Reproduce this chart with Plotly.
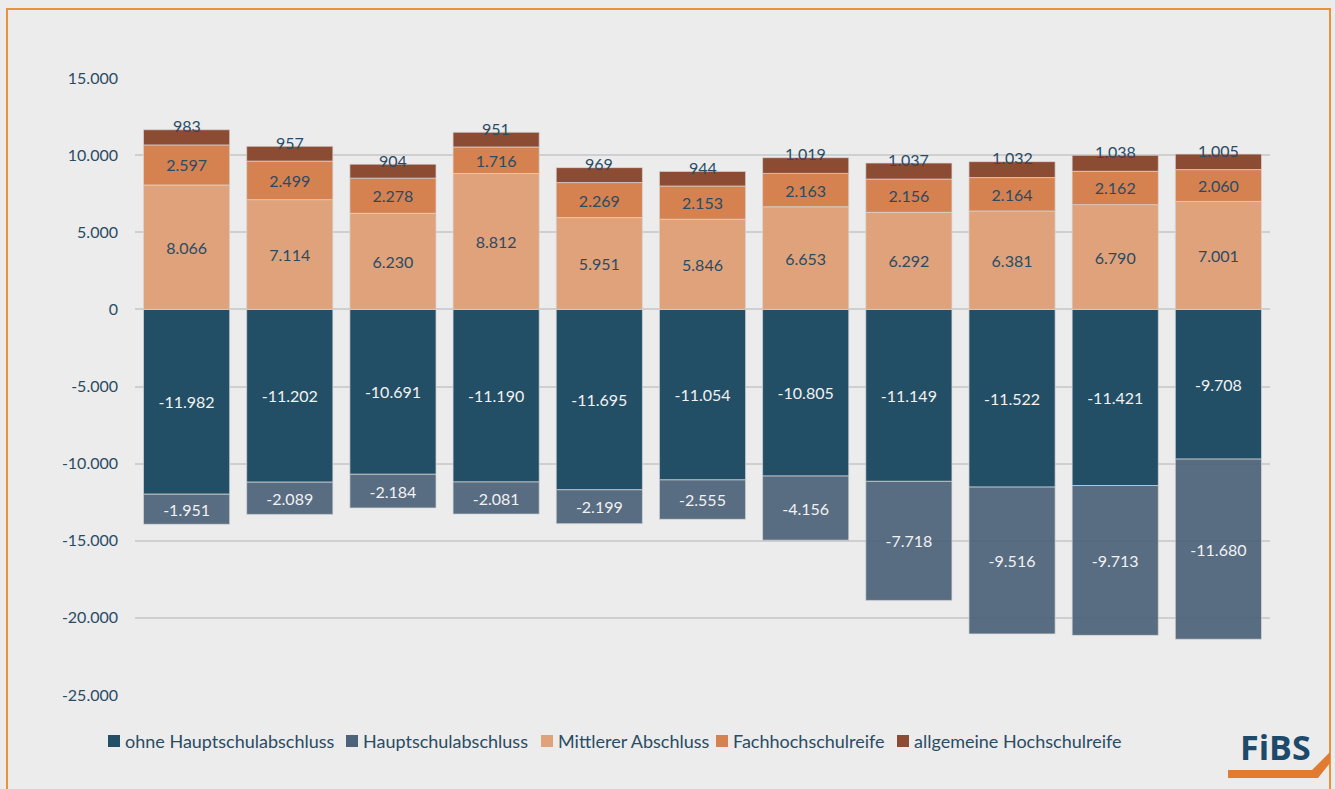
import plotly.graph_objects as go

# Stacked school-leaving qualification counts per group (negative = below, positive = above)
groups = [f"G{i}" for i in range(1, 12)]
ohne_hs = [-11982, -11202, -10691, -11190, -11695, -11054, -10805, -11149, -11522, -11421, -9708]
hauptschul = [-1951, -2089, -2184, -2081, -2199, -2555, -4156, -7718, -9516, -9713, -11680]
mittlerer = [8066, 7114, 6230, 8812, 5951, 5846, 6653, 6292, 6381, 6790, 7001]
fachhoch = [2597, 2499, 2278, 1716, 2269, 2153, 2163, 2156, 2164, 2162, 2060]
allg_hoch = [983, 957, 904, 951, 969, 944, 1019, 1037, 1032, 1038, 1005]

series_names = ["ohne Hauptschulabschluss", "Hauptschulabschluss", "Mittlerer Abschluss",
                "Fachhochschulreife", "allgemeine Hochschulreife"]
series_colors = ["#234f66", "#4d637a", "#dfa27a", "#d58150", "#8c4c33"]

y_ticks = [15000, 10000, 5000, 0, -5000, -10000, -15000, -20000, -25000]

TEXT = "#2a4b64"
FONT = "Lato"
BG = "#ececec"

# page geometry (pixels)
W, H = 1335, 789
L, R, T, B = 135, 65, 78, 94
PW, PH = W - L - R, H - T - B


def px(x):
    return (x - L) / PW


def py(y):
    return (H - B - y) / PH


def de(v):
    return f"{v:,}".replace(",", ".")


def bar(idx, values, txtcolor, opacity=1.0, show_text=True):
    return go.Bar(
        name=series_names[idx],
        x=groups,
        y=values,
        marker=dict(color=series_colors[idx], opacity=opacity,
                    line=dict(color="rgba(215,215,215,0.7)", width=1)),
        text=[de(v) for v in values] if show_text else None,
        textposition="inside" if show_text else "none",
        insidetextanchor="middle",
        textangle=0,
        constraintext="none",
        insidetextfont=dict(family=FONT, size=16, color=txtcolor),
        hoverinfo="name+y",
        showlegend=False,
    )


fig = go.Figure()
fig.add_trace(bar(0, ohne_hs, "#f2f2f2"))
fig.add_trace(bar(1, hauptschul, "#f2f2f2", opacity=0.93))
fig.add_trace(bar(2, mittlerer, TEXT))
fig.add_trace(bar(3, fachhoch, TEXT))
fig.add_trace(bar(4, allg_hoch, TEXT, show_text=False))

# labels for the thin top segment sit on the bar's upper edge
for g, m, f, a in zip(groups, mittlerer, fachhoch, allg_hoch):
    fig.add_annotation(x=g, y=m + f + a, text=de(a), showarrow=False,
                       yanchor="middle", yshift=4,
                       font=dict(family=FONT, size=16, color=TEXT))

shapes = []
# legend row: colour square followed by the series name
legend_x = [108, 346, 541, 716, 897]
legend_y = 741
for name, col, lx in zip(series_names, series_colors, legend_x):
    shapes.append(dict(type="rect", xref="paper", yref="paper",
                       x0=px(lx), x1=px(lx + 12), y0=py(legend_y - 6), y1=py(legend_y + 6),
                       fillcolor=col, line=dict(width=0)))
    fig.add_annotation(xref="paper", yref="paper", x=px(lx + 15), y=py(legend_y),
                       text=name, showarrow=False, xanchor="left", yanchor="middle",
                       font=dict(family=FONT, size=18, color=TEXT))

# orange frame
frame_col = "#e8923a"
shapes.append(dict(type="path", xref="paper", yref="paper",
                   path=f"M {px(7)},{py(800)} L {px(7)},{py(9)} L {px(1330)},{py(9)} L {px(1330)},{py(800)}",
                   line=dict(color=frame_col, width=2)))
# logo underline stroke
pts = [(1228, 770), (1312, 770), (1330, 752), (1330, 763), (1318, 778), (1228, 778)]
path = "M " + " L ".join(f"{px(x)},{py(y)}" for x, y in pts) + " Z"
shapes.append(dict(type="path", xref="paper", yref="paper", path=path,
                   fillcolor="#e07b30", line=dict(width=0)))

fig.add_annotation(xref="paper", yref="paper", x=px(1275), y=py(747),
                   text="<b>FiBS</b>", showarrow=False, xanchor="center", yanchor="middle",
                   font=dict(family="Open Sans", size=34, color="#1d4a6a"))

fig.update_layout(
    width=W, height=H,
    margin=dict(l=L, r=R, t=T, b=B),
    paper_bgcolor=BG, plot_bgcolor=BG,
    barmode="relative",
    bargap=0.165,
    separators=",.",
    font=dict(family=FONT, size=16, color=TEXT),
    shapes=shapes,
    showlegend=False,
    xaxis=dict(showticklabels=False, showgrid=False, zeroline=False, showline=False,
               ticks="", range=[-0.5, 10.5]),
    yaxis=dict(range=[-25000, 15000], tickvals=y_ticks,
               ticktext=[de(v) for v in y_ticks], showgrid=True, gridcolor="#cfcfcf",
               gridwidth=1.5, zeroline=True, zerolinecolor="#cfcfcf", zerolinewidth=1.5,
               showline=False, ticks="", ticklabelstandoff=16,
               tickfont=dict(family=FONT, size=16, color=TEXT)),
)

fig.write_html("out.html")
